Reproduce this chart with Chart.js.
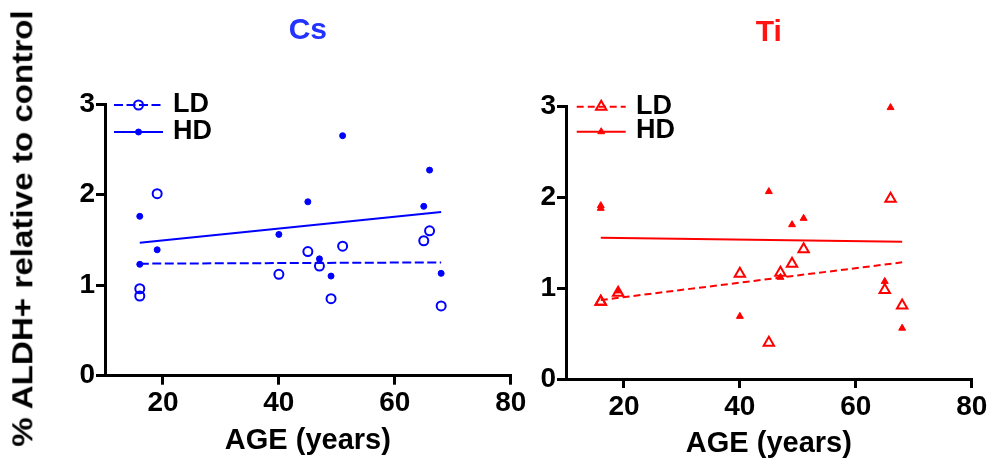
<!DOCTYPE html>
<html><head><meta charset="utf-8">
<script src="https://cdn.jsdelivr.net/npm/chart.js@4"></script>
<style>
html,body{margin:0;padding:0;background:#fff;width:991px;height:461px;overflow:hidden;}
#wrap{position:relative;width:991px;height:461px;}
canvas{position:absolute;top:0;}
#ytitle{position:absolute;font:bold 29px "Liberation Sans",Arial,sans-serif;line-height:29px;white-space:nowrap;color:#000;transform-origin:50% 50%;}
</style></head><body>
<div id="wrap">
<canvas id="cs" width="535" height="461" style="left:0;"></canvas>
<canvas id="ti" width="471" height="461" style="left:520px;"></canvas>
<div id="ytitle">% ALDH+ relative to control</div>
</div>
<script>
// ---- data ----
const ages = [16, 16, 19, 40, 45, 47, 49, 51, 65, 66, 68];
const csLD = [0.96, 0.88, 2.01, 1.12, 1.37, 1.21, 0.85, 1.43, 1.49, 1.60, 0.77];
const csHD = [1.76, 1.23, 1.39, 1.56, 1.92, 1.29, 1.10, 2.65, 1.87, 2.27, 1.13];
const tiLD = [0.85, 0.85, 0.95, 1.16, 0.40, 1.17, 1.27, 1.43, 0.98, 1.985, 0.81];
const tiHD = [1.91, 1.88, 0.97, 0.69, 2.065, 1.12, 1.70, 1.77, 1.075, 2.99, 0.56];
const fitX = [16, 68];
const csLDfit = [1.237, 1.251];
const csHDfit = [1.469, 1.807];
const tiLDfit = [0.870, 1.285];
const tiHDfit = [1.557, 1.513];
const xTicks = [20, 40, 60, 80];
const yTicks = [0, 1, 2, 3];
const seriesLabels = ['LD', 'HD'];
const panelTitles = ['Cs', 'Ti'];
const xTitle = 'AGE (years)';

const FONT = '"Liberation Sans", Arial, sans-serif';
Chart.defaults.font.family = FONT;
Chart.defaults.color = '#000';

function pts(xs, ys) { return xs.map((x, i) => ({x: x, y: ys[i]})); }

const insetLegend = {
  id: 'insetLegend',
  afterDraw(chart, args, o) {
    const {ctx, chartArea} = chart;
    o.items.forEach((it, i) => {
      const p = chart.data.datasets[it.point];
      const l = chart.data.datasets[it.line];
      const y = chartArea.top + o.y0 + i * o.dy;
      const x0 = chartArea.left + o.x0, x1 = chartArea.left + o.x1;
      ctx.save();
      ctx.strokeStyle = l.borderColor; ctx.lineWidth = l.borderWidth;
      ctx.setLineDash(l.borderDash || []);
      ctx.beginPath(); ctx.moveTo(x0, y); ctx.lineTo(x1, y); ctx.stroke();
      ctx.setLineDash([]);
      ctx.fillStyle = p.backgroundColor; ctx.strokeStyle = p.borderColor; ctx.lineWidth = p.borderWidth;
      Chart.helpers.drawPoint(ctx, {pointStyle: p.pointStyle, radius: p.pointRadius, borderWidth: p.borderWidth, rotation: 0}, (x0 + x1) / 2, y + (o.pdy || 0));
      ctx.fillStyle = '#000';
      ctx.font = 'bold ' + o.size + 'px ' + FONT;
      ctx.textBaseline = 'middle'; ctx.textAlign = 'left';
      ctx.fillText(p.label, chartArea.left + o.tx, y + (o.tdy ? o.tdy[i] : 0));
      ctx.restore();
    });
  }
};

function makeChart(id, cfg) {
  const color = cfg.color;
  const tickFont = {family: FONT, size: 28, weight: 'bold'};
  return new Chart(document.getElementById(id), {
    type: 'scatter',
    data: {
      datasets: [
        {label: seriesLabels[0], data: pts(ages, cfg.ld), pointStyle: cfg.ldStyle, pointRadius: cfg.ldR, borderWidth: 2,
         borderColor: color, backgroundColor: 'rgba(0,0,0,0)', clip: false},
        {label: seriesLabels[1], data: pts(ages, cfg.hd), pointStyle: cfg.hdStyle, pointRadius: cfg.hdR, borderWidth: 1,
         borderColor: color, backgroundColor: color, clip: false},
        {label: seriesLabels[0] + ' fit', data: pts(fitX, cfg.ldFit), showLine: true, pointRadius: 0, borderWidth: 2,
         borderColor: color, borderDash: cfg.dash, fill: false, clip: false},
        {label: seriesLabels[1] + ' fit', data: pts(fitX, cfg.hdFit), showLine: true, pointRadius: 0, borderWidth: 2,
         borderColor: color, fill: false, clip: false}
      ]
    },
    options: {
      responsive: false, animation: false, events: [],
      layout: {padding: {left: 0, right: cfg.padRight, top: 0, bottom: 0}},
      scales: {
        x: {
          type: 'linear', min: 10, max: 80,
          afterBuildTicks: s => { s.ticks = xTicks.map(v => ({value: v})); },
          afterFit: s => { s.height = cfg.xH; },
          ticks: {font: tickFont, color: '#000', padding: 2, maxRotation: 0},
          grid: {drawOnChartArea: false, drawTicks: true, tickLength: 9, lineWidth: 3, color: '#000'},
          border: {display: true, width: 3, color: '#000'},
          title: {display: true, text: xTitle, color: '#000', font: {family: FONT, size: 29, weight: 'bold'},
                  padding: {top: 0, bottom: cfg.xTitlePad}}
        },
        y: {
          type: 'linear', min: 0, max: 3,
          afterBuildTicks: s => { s.ticks = yTicks.map(v => ({value: v})); },
          afterFit: s => { s.width = cfg.yW; },
          ticks: {font: tickFont, color: '#000', padding: 1},
          grid: {drawOnChartArea: false, drawTicks: true, tickLength: 9, lineWidth: 3, color: '#000'},
          border: {display: true, width: 3, color: '#000'}
        }
      },
      plugins: {
        legend: {display: false},
        tooltip: {enabled: false},
        title: {display: true, text: cfg.title, color: cfg.titleColor, fullSize: false,
                font: {family: FONT, size: 30, weight: 'bold'}, padding: {top: cfg.tTop, bottom: cfg.tBot}},
        insetLegend: cfg.legend
      }
    },
    plugins: [insetLegend]
  });
}

makeChart('cs', {
  color: '#0000ff', titleColor: '#2233ff', title: panelTitles[0],
  ld: csLD, hd: csHD, ldFit: csLDfit, hdFit: csHDfit,
  ldStyle: 'circle', ldR: 4.5, hdStyle: 'circle', hdR: 3,
  dash: [9, 3.5], padRight: 24.3, xH: 85.3, yW: 105, xTitlePad: 3, tTop: 13, tBot: 55,
  legend: {items: [{point: 0, line: 2}, {point: 1, line: 3}], x0: 9, x1: 58, tx: 68, y0: 1, dy: 27, size: 27}
});
makeChart('ti', {
  color: '#ff0000', titleColor: '#ff1414', title: panelTitles[1],
  ld: tiLD, hd: tiHD, ldFit: tiLDfit, hdFit: tiHDfit,
  ldStyle: 'triangle', ldR: 6, hdStyle: 'triangle', hdR: 4,
  dash: [7, 4], padRight: 19.3, xH: 82, yW: 46, xTitlePad: 0, tTop: 15, tBot: 55.7,
  legend: {items: [{point: 0, line: 2}, {point: 1, line: 3}], x0: 10.7, x1: 59.7, tx: 70, y0: 0, dy: 25, size: 27, tdy: [0, -1.4]}
});

function placeYTitle() {
  const el = document.getElementById('ytitle');
  el.style.transform = 'none';
  const w = el.offsetWidth, h = el.offsetHeight;
  const k = 437 / w;
  el.style.left = (23 - w / 2) + 'px';
  el.style.top = (228.5 - h / 2) + 'px';
  el.style.transform = 'rotate(-90deg) scaleX(' + k + ')';
}
placeYTitle();
if (document.fonts && document.fonts.ready) document.fonts.ready.then(placeYTitle);
</script>
</body></html>
